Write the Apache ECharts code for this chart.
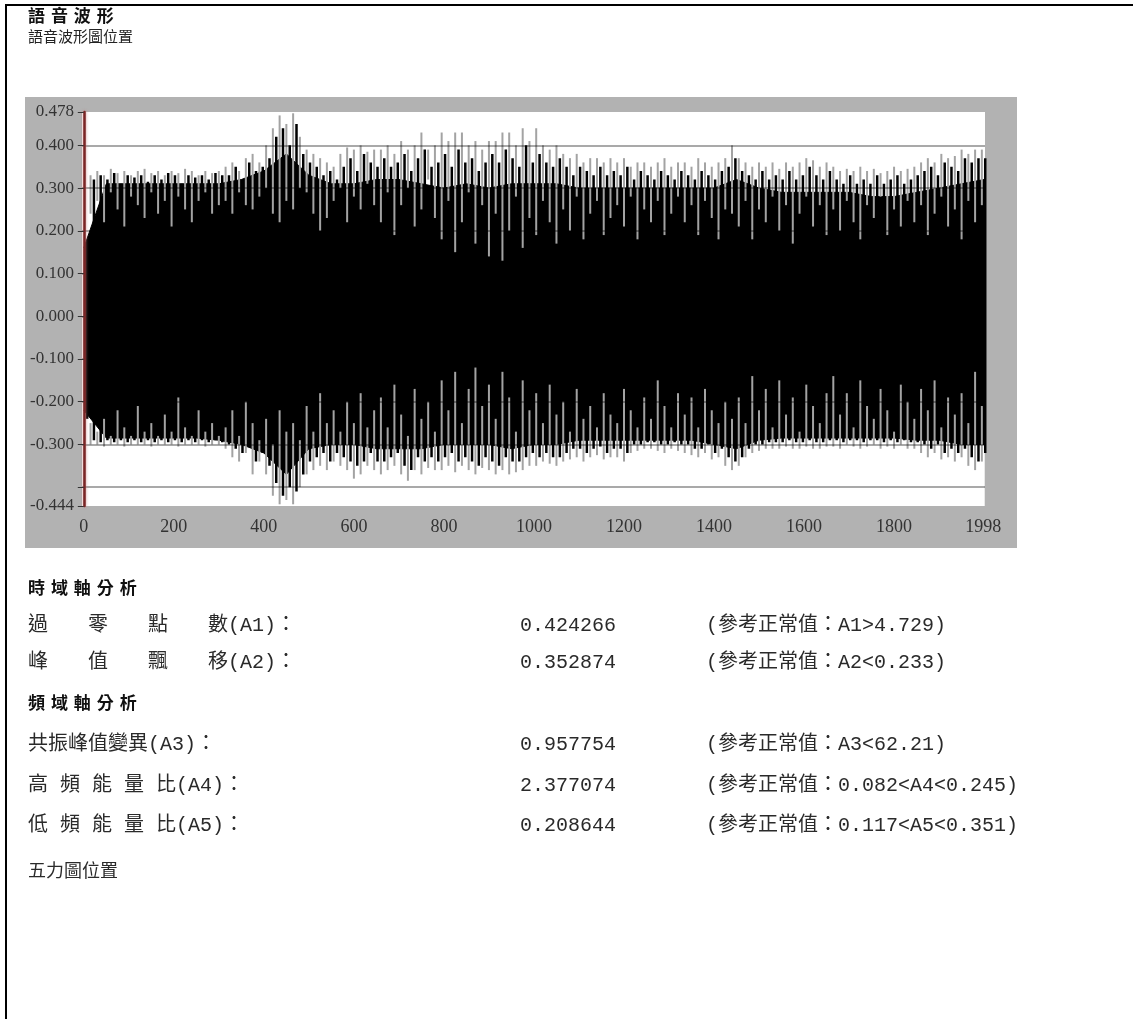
<!DOCTYPE html>
<html>
<head>
<meta charset="utf-8">
<title>語音波形</title>
<script src="https://cdn.jsdelivr.net/npm/echarts@6/dist/echarts.min.js"></script>
<style>
html, body { margin: 0; padding: 0; background: #fff; }
#page { width: 1133px; height: 1019px; }
</style>
</head>
<body>
<div id="page"></div>
<script>
// 波峰：每 15 個取樣點一個
const peakStep = 15
const topPeaks = [
  0.16, 0.33,
  0.34, 0.33, 0.345, 0.335, 0.34, 0.33, 0.34, 0.345, 0.335, 0.34, 0.33, 0.34, 0.335, 0.345, 0.34, 0.33, 0.34, 0.335, 0.34,
  0.35, 0.36, 0.34, 0.37, 0.38, 0.36,
  0.40, 0.44, 0.47, 0.45, 0.475, 0.42,
  0.39, 0.38, 0.37, 0.36, 0.35,
  0.38, 0.395, 0.39, 0.40, 0.385, 0.39,
  0.39, 0.40, 0.38, 0.41, 0.39, 0.40, 0.43, 0.39, 0.40,
  0.43, 0.41, 0.43, 0.43, 0.40, 0.41, 0.39, 0.41,
  0.41, 0.43, 0.43, 0.40, 0.44, 0.41,
  0.44, 0.40, 0.39, 0.40,
  0.38, 0.37, 0.38, 0.36, 0.37, 0.37, 0.36, 0.37,
  0.36, 0.37, 0.35, 0.36, 0.36, 0.35, 0.36, 0.37, 0.35, 0.36,
  0.36, 0.35, 0.37, 0.36, 0.35, 0.36, 0.37,
  0.40,
  0.37, 0.36, 0.35, 0.36, 0.35, 0.36, 0.345, 0.36, 0.35, 0.36, 0.37, 0.365, 0.35, 0.36,
  0.35, 0.34, 0.345, 0.34, 0.35, 0.34, 0.345, 0.335, 0.34, 0.35, 0.34, 0.345,
  0.35, 0.36, 0.37, 0.36, 0.38, 0.37, 0.375, 0.39, 0.38, 0.39, 0.39
]
// 淺色條紋在黑色主體內的起點
const topRoots = [
  0.16, 0.24,
  0.27, 0.22, 0.29, 0.25, 0.21, 0.28, 0.26, 0.23, 0.29, 0.24, 0.27, 0.21, 0.28, 0.25, 0.22, 0.27, 0.29, 0.24, 0.26,
  0.27, 0.24, 0.29, 0.26, 0.25, 0.28,
  0.30, 0.24, 0.22, 0.27, 0.25, 0.30,
  0.29, 0.24, 0.20, 0.23, 0.27,
  0.30, 0.22, 0.28, 0.25, 0.31, 0.26,
  0.22, 0.29, 0.19, 0.26, 0.30, 0.21, 0.25, 0.32, 0.23,
  0.18, 0.27, 0.15, 0.22, 0.29, 0.17, 0.26, 0.14,
  0.24, 0.13, 0.20, 0.28, 0.16, 0.23,
  0.19, 0.27, 0.22, 0.17,
  0.25, 0.20, 0.28, 0.18, 0.24, 0.27, 0.19, 0.23,
  0.26, 0.21, 0.28, 0.18, 0.25, 0.22, 0.27, 0.19, 0.24, 0.28,
  0.22, 0.26, 0.19, 0.27, 0.23, 0.18, 0.25,
  0.24,
  0.21, 0.27, 0.18, 0.25, 0.22, 0.28, 0.20, 0.26, 0.17, 0.24, 0.28, 0.21, 0.26, 0.19,
  0.25, 0.20, 0.27, 0.22, 0.18, 0.26, 0.23, 0.28, 0.19, 0.25, 0.21, 0.27,
  0.22, 0.26, 0.19, 0.24, 0.28, 0.21, 0.25, 0.18, 0.27, 0.22, 0.26
]
// 波峰之間的黑色柱頂
const topBlackTips = [
  0.16, 0.32,
  0.33, 0.32, 0.335, 0.31, 0.33, 0.325, 0.33, 0.315, 0.33, 0.32, 0.335, 0.33, 0.31, 0.33, 0.325, 0.33, 0.32, 0.335, 0.33,
  0.33, 0.35, 0.32, 0.36, 0.34, 0.35,
  0.37, 0.42, 0.44, 0.40, 0.45, 0.38,
  0.36, 0.35, 0.33, 0.34, 0.32,
  0.35, 0.37, 0.34, 0.38, 0.36, 0.35,
  0.37, 0.35, 0.36, 0.38, 0.34, 0.37, 0.39, 0.35, 0.36,
  0.38, 0.35, 0.39, 0.36, 0.37, 0.34, 0.36, 0.38,
  0.36, 0.39, 0.37, 0.35, 0.40, 0.36,
  0.38, 0.36, 0.35, 0.37,
  0.35, 0.33, 0.35, 0.34, 0.33, 0.35, 0.33, 0.34,
  0.33, 0.35, 0.32, 0.34, 0.33, 0.32, 0.34, 0.33, 0.32, 0.34,
  0.33, 0.32, 0.34, 0.33, 0.32, 0.34, 0.35,
  0.37,
  0.34, 0.33, 0.32, 0.34, 0.32, 0.33, 0.32, 0.34, 0.32, 0.33, 0.35, 0.33, 0.32, 0.34,
  0.32, 0.31, 0.33, 0.31, 0.32, 0.31, 0.33, 0.31, 0.32, 0.33, 0.31, 0.32,
  0.33, 0.34, 0.35, 0.33, 0.36, 0.35, 0.34, 0.37, 0.36, 0.37, 0.37
]
const bottomPeaks = [
  -0.26, -0.30,
  -0.30, -0.305, -0.30, -0.30, -0.305, -0.30, -0.30, -0.30, -0.305, -0.30, -0.30, -0.30, -0.305, -0.30, -0.30, -0.30, -0.305, -0.30, -0.30,
  -0.31, -0.33, -0.34, -0.32, -0.37, -0.34,
  -0.37, -0.42, -0.44, -0.43, -0.44, -0.40,
  -0.37, -0.36, -0.35, -0.36, -0.34,
  -0.35, -0.36, -0.38, -0.37, -0.35, -0.36,
  -0.37, -0.36, -0.35, -0.37, -0.385, -0.36, -0.37, -0.355, -0.36,
  -0.36, -0.35, -0.365, -0.35, -0.36, -0.37, -0.355, -0.36,
  -0.37, -0.36, -0.37, -0.365, -0.36, -0.35,
  -0.35, -0.34, -0.345, -0.35,
  -0.34, -0.335, -0.33, -0.34, -0.33, -0.325, -0.335, -0.33,
  -0.33, -0.34, -0.32, -0.315, -0.31, -0.31, -0.315, -0.32, -0.31, -0.315,
  -0.32, -0.325, -0.33, -0.32, -0.335, -0.33, -0.35,
  -0.36,
  -0.35, -0.33, -0.32, -0.315, -0.31, -0.31, -0.31, -0.305, -0.31, -0.31, -0.305, -0.31, -0.31, -0.305,
  -0.305, -0.31, -0.30, -0.305, -0.31, -0.305, -0.30, -0.31, -0.305, -0.31, -0.30, -0.31,
  -0.31, -0.32, -0.33, -0.32, -0.335, -0.33, -0.34, -0.33, -0.35, -0.36, -0.34
]
const bottomRoots = [
  -0.26, -0.25,
  -0.27, -0.24, -0.28, -0.22, -0.26, -0.28, -0.21, -0.27, -0.25, -0.28, -0.23, -0.27, -0.19, -0.26, -0.28, -0.22, -0.27, -0.25, -0.28,
  -0.26, -0.22, -0.28, -0.20, -0.25, -0.29,
  -0.24, -0.30, -0.22, -0.27, -0.25, -0.29,
  -0.21, -0.27, -0.18, -0.25, -0.22,
  -0.27, -0.20, -0.25, -0.18, -0.26, -0.22,
  -0.19, -0.26, -0.16, -0.23, -0.28, -0.17, -0.24, -0.20, -0.27,
  -0.15, -0.22, -0.13, -0.25, -0.17, -0.12, -0.21, -0.16,
  -0.24, -0.13, -0.19, -0.27, -0.15, -0.22,
  -0.18, -0.25, -0.16, -0.23,
  -0.20, -0.27, -0.17, -0.24, -0.21, -0.26, -0.18, -0.23,
  -0.25, -0.17, -0.22, -0.26, -0.19, -0.24, -0.15, -0.21, -0.26, -0.18,
  -0.23, -0.19, -0.26, -0.17, -0.22, -0.25, -0.20,
  -0.24,
  -0.19, -0.25, -0.14, -0.22, -0.17, -0.26, -0.15, -0.23, -0.19, -0.27, -0.16, -0.21, -0.25, -0.18,
  -0.14, -0.23, -0.18, -0.26, -0.15, -0.21, -0.24, -0.17, -0.22, -0.27, -0.16, -0.20,
  -0.24, -0.17, -0.22, -0.15, -0.26, -0.19, -0.23, -0.18, -0.25, -0.13, -0.21
]
const bottomBlackTips = [
  -0.24, -0.29,
  -0.295, -0.29, -0.295, -0.29, -0.295, -0.29, -0.295, -0.29, -0.295, -0.29, -0.295, -0.29, -0.295, -0.29, -0.295, -0.29, -0.295, -0.29, -0.295,
  -0.30, -0.31, -0.32, -0.30, -0.34, -0.32,
  -0.35, -0.39, -0.42, -0.40, -0.41, -0.37,
  -0.34, -0.33, -0.32, -0.34, -0.32,
  -0.33, -0.34, -0.35, -0.34, -0.32, -0.34,
  -0.34, -0.33, -0.32, -0.35, -0.36, -0.33, -0.34, -0.33, -0.34,
  -0.33, -0.32, -0.34, -0.33, -0.34, -0.35, -0.33, -0.34,
  -0.35, -0.33, -0.34, -0.34, -0.33, -0.32,
  -0.33, -0.32, -0.33, -0.33,
  -0.32, -0.31, -0.31, -0.32, -0.31, -0.305, -0.32, -0.31,
  -0.31, -0.32, -0.30, -0.30, -0.295, -0.295, -0.30, -0.30, -0.295, -0.30,
  -0.30, -0.31, -0.31, -0.30, -0.32, -0.31, -0.33,
  -0.34,
  -0.33, -0.31, -0.30, -0.30, -0.295, -0.295, -0.295, -0.29, -0.295, -0.295, -0.29, -0.295, -0.295, -0.29,
  -0.29, -0.295, -0.29, -0.29, -0.295, -0.29, -0.29, -0.295, -0.29, -0.295, -0.29, -0.295,
  -0.295, -0.30, -0.31, -0.30, -0.32, -0.31, -0.32, -0.31, -0.33, -0.34, -0.32
]

// 實心黑色主體的上下緣：每 50 個取樣點
const bodyStep = 50
const upperBlack = [
  0.16, 0.31, 0.31, 0.31, 0.31, 0.31, 0.31, 0.32, 0.34, 0.38,
  0.33, 0.31, 0.31, 0.32, 0.32, 0.31, 0.30, 0.31, 0.30, 0.31,
  0.31, 0.31, 0.30, 0.30, 0.30, 0.30, 0.30, 0.30, 0.30, 0.32,
  0.30, 0.29, 0.29, 0.29, 0.29, 0.28, 0.28, 0.29, 0.30, 0.31, 0.32
]
const lowerBlack = [
  -0.22, -0.285, -0.285, -0.285, -0.285, -0.285, -0.29, -0.30, -0.32, -0.37,
  -0.31, -0.30, -0.30, -0.31, -0.31, -0.31, -0.30, -0.30, -0.30, -0.31,
  -0.30, -0.30, -0.29, -0.29, -0.29, -0.29, -0.29, -0.29, -0.30, -0.31,
  -0.29, -0.285, -0.285, -0.285, -0.285, -0.285, -0.285, -0.29, -0.29, -0.30, -0.30
]

const xTicks = [0, 200, 400, 600, 800, 1000, 1200, 1400, 1600, 1800, 1998]
const yTicks = [0.478, 0.4, 0.3, 0.2, 0.1, 0, -0.1, -0.2, -0.3, -0.4, -0.444]
const gridValues = [0.4, 0.3, 0.2, 0.1, 0, -0.1, -0.2, -0.3, -0.4]

const pageTitle = '語 音 波 形'
const pageSubtitle = '語音波形圖位置'
const timeTitle = '時 域 軸 分 析'
const freqTitle = '頻 域 軸 分 析'
const footer = '五力圖位置'
const timeLabels = ['過　　零　　點　　數(A1)：', '峰　　值　　飄　　移(A2)：']
const timeValues = ['0.424266', '0.352874']
const timeRefs = ['(參考正常值：A1>4.729)', '(參考正常值：A2<0.233)']
const freqLabels = ['共振峰值變異(A3)：', '高 頻 能 量 比(A4)：', '低 頻 能 量 比(A5)：']
const freqValues = ['0.957754', '2.377074', '0.208644']
const freqRefs = ['(參考正常值：A3<62.21)', '(參考正常值：0.082<A4<0.245)', '(參考正常值：0.117<A5<0.351)']

const chart = echarts.init(document.getElementById('page'))

const upperLine = upperBlack.map((v, i) => [i * bodyStep, v])
const lowerLine = lowerBlack.map((v, i) => [i * bodyStep, v])
const topStreaks = topPeaks.map((v, i) => [i * peakStep, topRoots[i], v])
const bottomStreaks = bottomPeaks.map((v, i) => [i * peakStep, bottomRoots[i], v])
// 黑色柱位於兩道條紋之間
const blackCols = topBlackTips.map((v, i) => [i * peakStep + peakStep / 2, bottomBlackTips[i], v])

function makeStroke(color, width) {
  return function (params, api) {
    const a = api.coord([api.value(0), api.value(1)])
    const b = api.coord([api.value(0), api.value(2)])
    return {
      type: 'line',
      shape: { x1: a[0], y1: a[1], x2: b[0], y2: b[1] },
      style: { stroke: color, lineWidth: width }
    }
  }
}

const monoFont = '"Liberation Mono", "Noto Sans CJK TC"'
const headFamily = '"DejaVu Sans", "Noto Sans CJK TC"'
const cjkFont = '"Noto Sans CJK TC"'
const texts = []
function addText(str, x, y, font, color) {
  texts.push({
    type: 'text',
    x: x,
    y: y,
    style: { text: str, fill: color, font: font, verticalAlign: 'middle' }
  })
}
const headFont = 'bold 17px ' + headFamily
const rowFont = '20px ' + monoFont
addText(pageTitle, 28, 18, 'bold 17px ' + headFamily, '#111')
addText(pageSubtitle, 28, 36, '15px ' + cjkFont, '#222')
addText(timeTitle, 28, 590, headFont, '#111')
timeLabels.forEach((t, i) => {
  const y = 626 + i * 37
  addText(t, 28, y, rowFont, '#2a2a2a')
  addText(timeValues[i], 520, y, rowFont, '#2a2a2a')
  addText(timeRefs[i], 706, y, rowFont, '#2a2a2a')
})
addText(freqTitle, 28, 705, headFont, '#111')
freqLabels.forEach((t, i) => {
  const y = 745 + i * 40.5
  addText(t, 28, y, rowFont, '#2a2a2a')
  addText(freqValues[i], 520, y, rowFont, '#2a2a2a')
  addText(freqRefs[i], 706, y, rowFont, '#2a2a2a')
})
addText(footer, 28, 870, '18px ' + cjkFont, '#2a2a2a')

chart.setOption({
  animation: false,
  backgroundColor: '#fff',
  graphic: [
    { type: 'rect', z: -10, shape: { x: 25, y: 97, width: 992, height: 451 }, style: { fill: '#b2b2b2' } },
    { type: 'line', shape: { x1: 5, y1: 5, x2: 1133, y2: 5 }, style: { stroke: '#000', lineWidth: 2 } },
    { type: 'line', shape: { x1: 6, y1: 5, x2: 6, y2: 1019 }, style: { stroke: '#000', lineWidth: 2 } }
  ].concat(texts),
  grid: {
    left: 82,
    top: 112,
    width: 903,
    height: 394,
    show: true,
    backgroundColor: '#fff',
    borderWidth: 0
  },
  xAxis: {
    type: 'value',
    min: -4,
    max: 2002,
    axisLine: { show: false },
    splitLine: { show: false },
    axisTick: { show: true, customValues: xTicks, length: 6, lineStyle: { color: '#333' } },
    axisLabel: {
      customValues: xTicks,
      margin: 12,
      color: '#333',
      fontFamily: 'Liberation Serif',
      fontSize: 18,
      formatter: v => String(v)
    }
  },
  yAxis: {
    type: 'value',
    min: -0.444,
    max: 0.478,
    z: 6,
    axisLine: { show: true, lineStyle: { color: '#7a2626', width: 2.5, shadowColor: 'rgba(200,120,120,0.9)', shadowBlur: 3 } },
    splitLine: { show: false },
    axisTick: { show: true, customValues: yTicks, length: 6, lineStyle: { color: '#333' } },
    axisLabel: {
      customValues: yTicks,
      margin: 8,
      color: '#333',
      fontFamily: 'Liberation Serif',
      fontSize: 17,
      formatter: v => (Math.abs(v + 0.4) < 1e-6 ? '' : v.toFixed(3))
    }
  },
  series: [
    {
      // 上緣以下整片塗黑
      type: 'line',
      data: upperLine,
      symbol: 'none',
      z: 2,
      lineStyle: { color: '#000', width: 1 },
      areaStyle: { color: '#000', opacity: 1, origin: 'start' }
    },
    {
      // 下緣以下回填白色
      type: 'line',
      data: lowerLine,
      symbol: 'none',
      z: 2,
      lineStyle: { color: '#000', width: 1 },
      areaStyle: { color: '#fff', opacity: 1, origin: 'start' }
    },
    {
      type: 'custom',
      data: blackCols,
      renderItem: makeStroke('#000', 2.5),
      encode: { x: 0, y: [1, 2] },
      z: 2
    },
    {
      type: 'custom',
      data: topStreaks,
      renderItem: makeStroke('#a3a3a3', 2),
      encode: { x: 0, y: [1, 2] },
      z: 3
    },
    {
      type: 'custom',
      data: bottomStreaks,
      renderItem: makeStroke('#a3a3a3', 2),
      encode: { x: 0, y: [1, 2] },
      z: 3,
      markLine: {
        silent: true,
        symbol: 'none',
        label: { show: false },
        lineStyle: { color: 'rgba(0,0,0,0.45)', width: 1.5, type: 'solid' },
        data: gridValues.map(v => ({ yAxis: v }))
      }
    }
  ]
})
</script>
</body>
</html>
